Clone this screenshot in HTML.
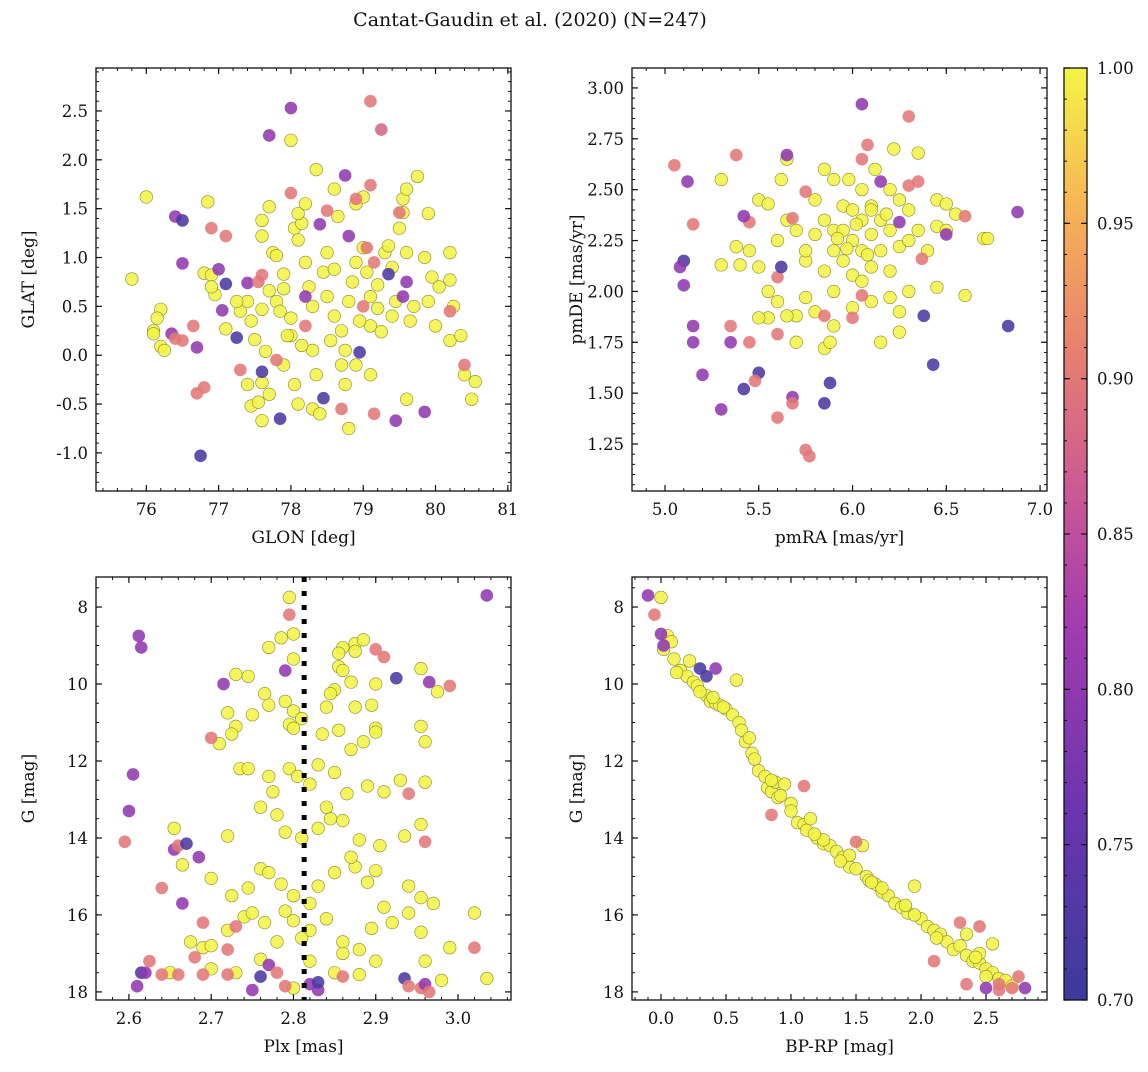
<!DOCTYPE html>
<html><head><meta charset="utf-8"><style>
body{margin:0;background:#fff;}
svg text{font-family:"DejaVu Serif","Liberation Serif",serif;fill:#111;}
</style></head><body>
<svg id="fig" width="1148" height="1067" viewBox="0 0 1148 1067" xmlns="http://www.w3.org/2000/svg">
<defs>
<linearGradient id="cmap" x1="0" y1="1" x2="0" y2="0">
<stop offset="0" stop-color="#3b3b9c"/><stop offset="0.2" stop-color="#6a35ad"/><stop offset="0.4" stop-color="#a23bb0"/><stop offset="0.55" stop-color="#cb5a94"/><stop offset="0.7" stop-color="#e8806f"/><stop offset="0.85" stop-color="#f7b455"/><stop offset="1" stop-color="#f3f445"/>
</linearGradient>
</defs>
<text x="530" y="26" font-size="19" text-anchor="middle">Cantat-Gaudin et al. (2020) (N=247)</text>
</svg>
<script>
// ---- data ----
const p1Glon=[76.4,76.5,76.9,77.1,78.0,78.8,78.4,78.5,78.75,78.9,79.1,79.5,76.5,77.0,77.4,77.1,77.55,77.6,79.35,79.05,79.15,76.35,76.4,76.5,76.65,76.7,77.05,77.25,77.3,77.6,77.8,76.8,76.7,76.75,77.85,78.45,78.2,78.95,79.15,78.7,79.45,79.85,79.0,79.55,80.2,80.4,79.6,78.2,78.0,79.1,79.25,77.7];
const p1Glat=[1.42,1.38,1.30,1.22,1.66,1.22,1.34,1.48,1.84,1.60,1.74,1.46,0.94,0.88,0.74,0.73,0.75,0.82,0.83,1.10,0.95,0.22,0.17,0.15,0.30,0.08,0.46,0.18,-0.15,-0.17,-0.05,-0.33,-0.39,-1.03,-0.65,-0.44,0.30,0.03,-0.60,-0.55,-0.67,-0.58,0.50,0.60,0.45,-0.10,0.75,0.60,2.53,2.60,2.31,2.25];
const p1Prob=[0.80,0.72,0.90,0.90,0.90,0.80,0.80,0.90,0.80,0.90,0.90,0.90,0.80,0.80,0.80,0.72,0.90,0.90,0.72,0.90,0.90,0.80,0.90,0.90,0.90,0.80,0.80,0.72,0.90,0.72,0.90,0.90,0.90,0.72,0.72,0.72,0.90,0.72,0.90,0.90,0.80,0.80,0.90,0.80,0.90,0.90,0.80,0.80,0.80,0.90,0.88,0.80];
const p1YGlon=[76.0,75.8,76.1,76.1,76.2,76.15,76.2,76.25,76.8,76.9,76.95,76.9,77.1,76.85,77.4,77.3,77.45,77.5,77.4,77.45,77.55,77.6,77.6,77.7,77.65,77.6,77.7,77.8,77.85,77.7,77.6,77.75,77.8,77.9,77.9,78.0,78.05,78.1,78.0,78.05,78.1,78.15,78.1,78.2,78.0,77.6,78.2,78.25,78.3,78.3,78.35,78.3,78.4,78.45,78.5,78.5,78.35,78.6,78.65,78.6,78.7,78.7,78.75,78.8,78.8,78.85,78.9,78.9,79.0,79.0,79.05,79.1,79.1,79.1,79.2,79.25,79.3,79.35,79.4,79.45,79.5,79.55,79.6,79.55,79.6,79.65,79.6,79.75,79.85,79.9,79.9,79.95,80.0,80.05,80.2,80.25,80.2,80.2,80.35,80.4,80.5,80.55,77.95,78.15,78.55,78.6,78.95,79.2,79.4,77.25,77.9,78.75,78.9,79.7];
const p1YGlat=[1.62,0.78,0.25,0.22,0.47,0.38,0.09,0.05,0.84,0.82,0.62,0.70,0.27,1.57,0.55,0.45,0.35,0.16,-0.30,-0.52,-0.48,-0.28,-0.67,-0.40,0.04,0.47,0.66,0.55,0.45,1.52,1.38,1.05,1.02,0.83,0.68,0.20,-0.30,-0.50,0.38,1.30,1.18,1.35,1.45,1.55,2.20,1.22,0.95,0.70,0.50,0.05,-0.20,-0.55,-0.60,0.85,0.60,1.05,1.90,1.70,1.42,0.40,0.25,-0.10,-0.30,-0.75,0.55,0.75,0.95,1.55,1.62,1.10,0.85,0.60,0.30,-0.20,0.48,0.24,1.05,1.12,0.90,0.55,1.30,1.60,1.70,1.46,1.05,0.35,-0.45,1.83,1.00,1.45,0.55,0.80,0.30,0.70,1.05,0.50,0.15,0.77,0.20,-0.20,-0.45,-0.27,0.20,0.10,0.15,0.88,0.35,0.72,0.40,0.55,-0.10,0.05,-0.10,0.50];

const p2Ra=[5.05,5.12,5.10,5.08,5.10,5.15,5.15,5.20,5.15,5.30,5.35,5.35,5.38,5.45,5.42,5.45,5.42,5.50,5.48,5.60,5.60,5.60,5.62,5.65,5.68,5.68,5.75,5.77,5.75,5.68,5.85,5.88,5.85,6.00,6.05,6.05,6.08,6.05,6.15,6.25,6.30,6.30,6.35,6.37,6.38,6.43,6.50,6.60,6.83,6.88];
const p2De=[2.62,2.54,2.15,2.12,2.03,1.83,1.75,1.59,2.33,1.42,1.83,1.75,2.67,2.34,2.37,1.75,1.52,1.60,1.56,2.07,1.79,1.38,2.12,2.67,1.48,1.45,1.22,1.19,2.49,2.36,1.45,1.55,1.88,1.87,1.98,2.92,2.72,2.65,2.54,2.34,2.86,2.52,2.54,2.16,1.88,1.64,2.28,2.37,1.83,2.39];
const p2Prob=[0.90,0.80,0.72,0.80,0.80,0.80,0.80,0.80,0.90,0.80,0.90,0.80,0.90,0.90,0.80,0.90,0.72,0.72,0.90,0.90,0.90,0.90,0.72,0.80,0.80,0.90,0.90,0.90,0.90,0.90,0.72,0.72,0.90,0.90,0.90,0.80,0.90,0.90,0.80,0.80,0.90,0.90,0.90,0.90,0.72,0.72,0.80,0.90,0.72,0.80];
const p2YRa=[5.3,5.3,5.4,5.38,5.45,5.5,5.55,5.5,5.55,5.55,5.5,5.6,5.6,5.62,5.65,5.65,5.7,5.7,5.7,5.75,5.75,5.75,5.8,5.8,5.8,5.85,5.85,5.85,5.85,5.9,5.9,5.9,5.9,5.9,5.95,5.95,5.95,5.98,6.0,6.0,6.0,6.0,6.05,6.05,6.05,6.05,6.1,6.1,6.1,6.1,6.12,6.15,6.15,6.15,6.2,6.2,6.2,6.2,6.22,6.25,6.25,6.25,6.25,6.3,6.3,6.3,6.35,6.35,6.4,6.45,6.45,6.45,6.5,6.5,6.6,6.55,6.7,6.72,5.88,5.65,6.1,5.97,5.92,6.02,6.08,6.18];
const p2YDe=[2.55,2.13,2.13,2.22,2.2,2.45,2.43,2.12,2.0,1.87,1.87,1.95,2.25,2.55,2.65,2.35,2.3,1.75,1.88,2.15,2.2,1.97,1.9,2.45,2.28,2.6,2.35,2.1,1.72,2.55,2.3,2.2,2.0,1.83,2.42,2.3,2.15,2.55,2.4,2.25,2.08,1.92,2.5,2.35,2.2,2.05,2.42,2.28,2.12,1.95,2.6,2.35,2.2,1.75,2.5,2.3,2.1,1.97,2.7,2.45,2.22,1.9,1.8,2.4,2.25,2.0,2.68,2.3,2.2,2.45,2.32,2.02,2.43,2.3,1.98,2.38,2.26,2.26,1.75,1.88,2.4,2.21,2.26,2.33,2.18,2.38];

const p3Plx=[2.612,2.615,2.605,2.600,2.595,2.640,2.655,2.660,2.670,2.665,2.685,2.700,2.715,2.690,2.720,2.730,2.615,2.620,2.610,2.625,2.640,2.660,2.680,2.690,2.720,2.750,2.760,2.770,2.780,2.790,2.795,2.790,2.820,2.830,2.830,2.860,2.900,2.910,2.925,2.990,2.965,3.035,2.940,2.960,2.935,2.940,2.955,2.960,2.965,3.020];
const p3G=[8.75,9.05,12.35,13.3,14.1,15.3,14.3,14.2,14.15,15.7,14.5,11.4,10.0,16.2,16.9,16.3,17.5,17.5,17.85,17.2,17.55,17.55,17.1,17.55,17.55,17.95,17.6,17.3,17.5,9.65,8.2,17.85,17.8,17.95,17.75,17.6,9.1,9.3,9.85,10.05,9.95,7.7,12.85,14.1,17.65,17.85,17.9,17.8,18.0,16.85];
const p3Prob=[0.80,0.80,0.80,0.80,0.90,0.90,0.80,0.90,0.72,0.80,0.80,0.90,0.80,0.90,0.90,0.90,0.72,0.80,0.80,0.90,0.90,0.90,0.90,0.90,0.90,0.80,0.72,0.80,0.90,0.80,0.90,0.90,0.80,0.80,0.72,0.90,0.90,0.90,0.72,0.90,0.80,0.80,0.90,0.90,0.72,0.90,0.90,0.80,0.90,0.90];
const p3YPlx=[2.795,2.8,2.785,2.77,2.8,2.86,2.875,2.875,2.855,2.885,2.855,2.86,2.87,2.85,2.73,2.745,2.765,2.77,2.75,2.79,2.8,2.84,2.845,2.9,2.895,2.875,2.955,2.975,2.73,2.725,2.71,2.72,2.795,2.8,2.835,2.855,2.87,2.885,2.9,2.9,2.955,2.96,2.735,2.745,2.77,2.775,2.795,2.805,2.82,2.85,2.865,2.89,2.91,2.93,2.96,2.72,2.76,2.78,2.79,2.81,2.83,2.845,2.86,2.88,2.905,2.935,2.955,2.655,2.665,2.7,2.725,2.745,2.76,2.77,2.785,2.8,2.83,2.85,2.875,2.89,2.9,2.94,2.955,2.97,2.675,2.69,2.7,2.72,2.74,2.75,2.765,2.78,2.79,2.8,2.82,2.84,2.86,2.88,2.895,2.91,2.92,2.94,2.955,2.99,3.02,3.035,2.98,2.96,2.9,2.85,2.88,2.82,2.8,2.76,2.73,2.7,2.65,2.81,2.83,2.84,2.87,2.82,2.81,2.86];
const p3YG=[7.75,8.7,8.8,9.05,9.35,9.05,8.95,9.15,9.2,8.85,9.55,9.65,9.95,10.15,9.75,9.8,10.25,10.55,10.8,10.45,10.7,10.6,10.25,10.0,10.55,10.6,9.6,10.2,11.1,11.3,11.55,10.75,11.05,11.15,11.3,11.2,11.7,11.5,11.15,11.25,11.1,11.5,12.2,12.2,12.4,12.8,12.2,12.4,12.6,12.3,12.85,12.65,12.8,12.5,12.55,13.95,13.2,13.4,13.85,14.0,13.75,13.5,13.55,14.05,14.2,13.95,13.65,13.75,14.7,15.05,15.5,15.3,14.8,14.9,15.2,15.5,15.25,14.9,14.75,15.15,14.85,15.25,15.55,15.7,16.7,16.85,16.8,16.4,16.05,15.95,16.2,16.7,15.9,16.15,16.4,16.1,16.7,16.9,16.35,15.8,16.2,15.95,16.45,16.85,15.95,17.65,17.7,17.2,17.2,17.5,17.55,17.2,17.9,17.15,17.5,17.4,17.5,10.9,12.1,13.2,14.5,15.7,16.6,17.0];

const p4Col=[-0.10,-0.05,0.00,0.02,0.30,0.35,0.42,0.85,1.50,2.10,2.35,2.30,2.45,2.50,2.60,2.70,2.75,2.80,2.60,1.10];
const p4G=[7.7,8.2,8.7,9.0,9.6,9.8,9.6,13.4,14.1,17.2,17.8,16.2,16.3,17.9,17.95,17.9,17.6,17.9,17.8,12.65];
const p4Prob=[0.80,0.90,0.80,0.80,0.72,0.72,0.80,0.90,0.90,0.90,0.90,0.90,0.90,0.80,0.90,0.90,0.90,0.80,0.90,0.90];
const p4YCol=[0.0,0.05,0.08,0.02,0.1,0.15,0.2,0.25,0.22,0.28,0.35,0.38,0.42,0.45,0.5,0.55,0.58,0.6,0.62,0.65,0.7,0.72,0.75,0.8,0.82,0.85,0.88,0.9,0.95,1.0,1.0,1.05,1.1,1.12,1.15,1.2,1.25,1.3,1.35,1.4,1.45,1.5,1.55,1.58,1.6,1.65,1.7,1.75,1.8,1.85,1.9,1.95,2.0,2.05,2.1,2.15,2.2,2.25,2.3,2.35,2.4,2.45,2.5,2.55,2.55,2.6,2.65,2.7,2.5,2.45,1.95,1.7,1.45,1.25,0.85,0.48,0.3,2.35,0.12,0.4,0.68,0.92,1.18,1.38,1.62,1.88,2.12,2.42];
const p4YG=[7.75,8.75,8.9,9.1,9.35,9.65,9.8,9.95,9.4,10.05,10.3,10.45,10.5,10.55,10.65,10.8,9.9,11.0,11.2,11.5,11.8,11.95,12.25,12.4,12.7,12.8,12.55,12.95,12.6,13.1,13.3,13.6,13.65,13.8,13.5,14.0,14.15,14.2,14.35,14.5,14.75,14.8,14.2,15.0,15.1,15.2,15.4,15.5,15.7,15.8,15.95,15.25,16.1,16.3,16.4,16.5,16.7,16.9,16.8,17.05,17.2,17.25,17.4,16.75,17.5,17.65,17.7,17.85,17.6,17.0,16.0,15.3,14.45,14.05,12.5,10.6,10.2,16.5,9.7,10.35,11.4,12.9,13.9,14.6,15.15,15.75,16.6,17.1];

const cbarTicks=[0.70,0.75,0.80,0.85,0.90,0.95,1.00];
const plxLine=2.813;

// ---- drawing ----
const svg=document.getElementById('fig');
const NS='http://www.w3.org/2000/svg';
function mk(tag,attrs,parent){const e=document.createElementNS(NS,tag);for(const k in attrs)e.setAttribute(k,attrs[k]);(parent||svg).appendChild(e);return e;}
const stops=[[0,[59,59,156]],[0.2,[106,53,173]],[0.4,[162,59,176]],[0.55,[203,90,148]],[0.7,[232,128,111]],[0.85,[247,180,85]],[1,[243,244,69]]];
function cmap(v){let t=(v-0.7)/0.3;t=Math.max(0,Math.min(1,t));for(let i=1;i<stops.length;i++){if(t<=stops[i][0]){const a=stops[i-1],b=stops[i];const f=(t-a[0])/(b[0]-a[0]);const c=a[1].map((x,j)=>Math.round(x+(b[1][j]-x)*f));return `rgb(${c[0]},${c[1]},${c[2]})`;}}return 'rgb(243,244,69)';}

function panel(name,box,xr,yr,xt,xmin,yt,ymin,xlab,ylab,fmtx,fmty){
  const [L,T,R,B]=box;
  const sx=v=>L+(v-xr[0])/(xr[1]-xr[0])*(R-L);
  const sy=v=>B-(v-yr[0])/(yr[1]-yr[0])*(B-T);
  const g=mk('g',{});
  
  
  const ax=mk('g',{},g);
  
  
  xmin.forEach(v=>{const x=sx(v);if(x<L||x>R)return;mk('line',{x1:x,x2:x,y1:B,y2:B-3,stroke:'#111','stroke-width':1},ax);mk('line',{x1:x,x2:x,y1:T,y2:T+3,stroke:'#111','stroke-width':1},ax);});
  ymin.forEach(v=>{const y=sy(v);if(y<T||y>B)return;mk('line',{x1:L,x2:L+3,y1:y,y2:y,stroke:'#111','stroke-width':1},ax);mk('line',{x1:R,x2:R-3,y1:y,y2:y,stroke:'#111','stroke-width':1},ax);});
  xt.forEach(v=>{const x=sx(v);mk('line',{x1:x,x2:x,y1:B,y2:B-6,stroke:'#111','stroke-width':1.2},ax);mk('line',{x1:x,x2:x,y1:T,y2:T+6,stroke:'#111','stroke-width':1.2},ax);
    const t=mk('text',{x:x,y:B+24,'font-size':16.5,'text-anchor':'middle'},ax);t.textContent=fmtx(v);
    
    });
  yt.forEach(v=>{const y=sy(v);mk('line',{x1:L,x2:L+6,y1:y,y2:y,stroke:'#111','stroke-width':1.2},ax);mk('line',{x1:R,x2:R-6,y1:y,y2:y,stroke:'#111','stroke-width':1.2},ax);
    const t=mk('text',{x:L-8,y:y+6,'font-size':16.5,'text-anchor':'end'},ax);t.textContent=fmty(v);
    
    });
  const xl=mk('text',{x:(L+R)/2,y:B+52,'font-size':17,'text-anchor':'middle'},g);xl.textContent=xlab;
  
  
  const yl=mk('text',{x:0,y:0,'font-size':17,'text-anchor':'middle',transform:`translate(${name==='p1'||name==='p3'?L-62:L-50},${(T+B)/2}) rotate(-90)`},g);yl.textContent=ylab;
  
  
  const clipId='clip-'+name;
  const cp=mk('clipPath',{id:clipId},g);mk('rect',{x:L,y:T,width:R-L,height:B-T},cp);
  const pts=mk('g',{'clip-path':`url(#${clipId})`},g);
  
  
  const fr=mk('rect',{x:L,y:T,width:R-L,height:B-T,fill:'none',stroke:'#111','stroke-width':1.3},g);
  
  
  return {sx,sy,pts,g};
}
function dots(P,xs,ys,ps){
  xs.forEach((x,i)=>{const p=ps?ps[i]:1.0;const c=mk('circle',{cx:P.sx(x),cy:P.sy(ys[i]),r:6.3,fill:cmap(p),'fill-opacity':0.88,stroke:p>0.97?'#8a8a30':'none','stroke-width':0.6},P.pts);
    
    });
}
function rng(a,b,s){const o=[];for(let v=a;v<=b+1e-9;v+=s)o.push(Math.round(v*1000)/1000);return o;}
const ones=n=>new Array(n).fill(1.0);

const f1=v=>v.toFixed(1), f0=v=>v.toFixed(0), f2=v=>v.toFixed(2);
// panel 1
const P1=panel('p1',[96,68,511,491],[75.304,81.044],[-1.39,2.94],rng(76,81,1),rng(75.4,81,0.2),rng(-1,2.5,0.5),rng(-1.3,2.9,0.1),'GLON [deg]','GLAT [deg]',f0,f1);
dots(P1,p1YGlon,p1YGlat,ones(p1YGlon.length));dots(P1,p1Glon,p1Glat,p1Prob);
// panel 2
const P2=panel('p2',[632,68,1047,491],[4.824,7.037],[1.019,3.098],rng(5,7,0.5),rng(4.9,7.0,0.1),rng(1.25,3.0,0.25),rng(1.05,3.05,0.05),'pmRA [mas/yr]','pmDE [mas/yr]',f1,f2);
dots(P2,p2YRa,p2YDe,ones(p2YRa.length));dots(P2,p2Ra,p2De,p2Prob);
// panel 3 (inverted y)
const P3=panel('p3',[96,577,511,1000],[2.560,3.0644],[18.21,7.22],rng(2.6,3.0,0.1),rng(2.56,3.06,0.02),rng(8,18,2),rng(7.5,18,0.5),'Plx [mas]','G [mag]',f1,f0);
dots(P3,p3YPlx,p3YG,ones(p3YPlx.length));dots(P3,p3Plx,p3G,p3Prob);
const dl=mk('line',{x1:P3.sx(plxLine),x2:P3.sx(plxLine),y1:577,y2:1000,stroke:'#000','stroke-width':5,'stroke-dasharray':'5 9'},P3.g);


// panel 4
const P4=panel('p4',[632,577,1047,1000],[-0.223,2.969],[18.21,7.22],rng(0,2.5,0.5),rng(-0.2,2.9,0.1),rng(8,18,2),rng(7.5,18,0.5),'BP-RP [mag]','G [mag]',f1,f0);
dots(P4,p4YCol,p4YG,ones(p4YCol.length));dots(P4,p4Col,p4G,p4Prob);

// colorbar
const cb=mk('g',{});


const cL=1064,cR=1087,cT=68,cB=1000;
mk('rect',{x:cL,y:cT,width:cR-cL,height:cB-cT,fill:'url(#cmap)',stroke:'#111','stroke-width':1.3},cb);
const cy=v=>cB-(v-0.7)/0.3*(cB-cT);
rng(0.70,1.0,0.01).forEach(v=>{mk('line',{x1:cR,x2:cR-3,y1:cy(v),y2:cy(v),stroke:'#111','stroke-width':1},cb);mk('line',{x1:cL,x2:cL+3,y1:cy(v),y2:cy(v),stroke:'#111','stroke-width':1},cb);});
cbarTicks.forEach(v=>{mk('line',{x1:cR,x2:cR-6,y1:cy(v),y2:cy(v),stroke:'#111','stroke-width':1.2},cb);mk('line',{x1:cL,x2:cL+6,y1:cy(v),y2:cy(v),stroke:'#111','stroke-width':1.2},cb);
  const t=mk('text',{x:cR+10,y:cy(v)+6,'font-size':16.5},cb);t.textContent=v.toFixed(2);
  
  });
</script>
</body></html>
